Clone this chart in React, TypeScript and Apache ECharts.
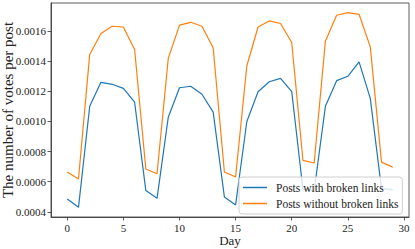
import React, { useEffect, useRef } from "react";
import * as echarts from "echarts";

const days = Array.from({ length: 30 }, (_, i) => i);
const withBroken = [
  0.000486, 0.00043, 0.0011, 0.001259, 0.001246, 0.001219, 0.001127, 0.000541, 0.00049, 0.001028,
  0.001223, 0.001233, 0.00118, 0.001061, 0.000499, 0.000446, 0.000999, 0.001197, 0.001263, 0.001285,
  0.001197, 0.00055, 0.00054, 0.0011, 0.00127, 0.001299, 0.001395, 0.001153, 0.000554, 0.000547,
];
const withoutBroken = [
  0.000664, 0.000618, 0.001444, 0.001583, 0.001631, 0.001626, 0.001477, 0.000684, 0.000653, 0.001418,
  0.001638, 0.001657, 0.001631, 0.001488, 0.000664, 0.000631, 0.001369, 0.001626, 0.001666, 0.001649,
  0.001523, 0.000741, 0.000724, 0.001532, 0.001704, 0.001721, 0.00171, 0.001494, 0.00073, 0.000697,
];
const xTicks = [0, 5, 10, 15, 20, 25, 30];
const yTicks = [0.0004, 0.0006, 0.0008, 0.001, 0.0012, 0.0014, 0.0016];
const seriesNames = ["Posts with broken links", "Posts without broken links"];

const FONT = "'Liberation Serif', serif";

export default function App() {
  const ref = useRef<HTMLDivElement>(null);
  useEffect(() => {
    if (!ref.current) return;
    const chart = echarts.init(ref.current, undefined, { renderer: "svg" });
    const axisColor = "#333";
    chart.setOption({
      animation: false,
      backgroundColor: "#fff",
      textStyle: { fontFamily: FONT },
      grid: {
        left: 51,
        right: 6,
        top: 3,
        bottom: 32,
        containLabel: false,
        outerBoundsMode: "none",
        show: true,
        borderColor: axisColor,
        borderWidth: 0.8,
      },
      legend: {
        orient: "vertical",
        left: 239,
        top: 177,
        padding: [4, 4, 4, 4],
        icon: "rect",
        itemWidth: 24,
        itemHeight: 1.5,
        itemGap: 3,
        backgroundColor: "rgba(255,255,255,0.8)",
        borderColor: "#d0d0d0",
        borderWidth: 1,
        borderRadius: 3,
        textStyle: { fontFamily: FONT, fontSize: 11.5, lineHeight: 13, color: "#222", padding: [0, 0, 0, 4] },
        data: seriesNames,
      },
      xAxis: {
        type: "value",
        min: -1.45,
        max: 30.45,
        name: "Day",
        nameLocation: "middle",
        nameGap: 17,
        nameMoveOverlap: false,
        nameTextStyle: { fontFamily: FONT, fontSize: 13, color: "#222" },
        axisLine: { show: true, onZero: false, lineStyle: { color: axisColor, width: 0.8 } },
        axisTick: { show: true, length: 3.5, customValues: xTicks, lineStyle: { color: axisColor, width: 0.8 } },
        axisLabel: {
          customValues: xTicks,
          fontFamily: FONT,
          fontSize: 11,
          color: "#222",
          margin: 5,
          formatter: (v: number) => String(v),
        },
        splitLine: { show: false },
      },
      yAxis: {
        type: "value",
        min: 0.000366,
        max: 0.001785,
        name: "The number of votes per post",
        nameLocation: "middle",
        nameRotate: 90,
        nameGap: 36,
        nameMoveOverlap: false,
        nameTextStyle: { fontFamily: FONT, fontSize: 15, color: "#222" },
        axisLine: { show: true, onZero: false, lineStyle: { color: axisColor, width: 0.8 } },
        axisTick: { show: true, length: 3.5, customValues: yTicks, lineStyle: { color: axisColor, width: 0.8 } },
        axisLabel: {
          customValues: yTicks,
          fontFamily: FONT,
          fontSize: 11,
          color: "#222",
          margin: 5,
          formatter: (v: number) => v.toFixed(4),
        },
        splitLine: { show: false },
      },
      series: [
        {
          name: seriesNames[0],
          type: "line",
          data: days.map((d, i) => [d, withBroken[i]]),
          symbol: "none",
          lineStyle: { color: "#1f77b4", width: 1.2 },
          itemStyle: { color: "#1f77b4" },
        },
        {
          name: seriesNames[1],
          type: "line",
          data: days.map((d, i) => [d, withoutBroken[i]]),
          symbol: "none",
          lineStyle: { color: "#ff7f0e", width: 1.2 },
          itemStyle: { color: "#ff7f0e" },
        },
      ],
    });
    return () => chart.dispose();
  }, []);
  return <div ref={ref} style={{ width: 415, height: 249, position: "absolute", left: 0, top: 0 }} />;
}
